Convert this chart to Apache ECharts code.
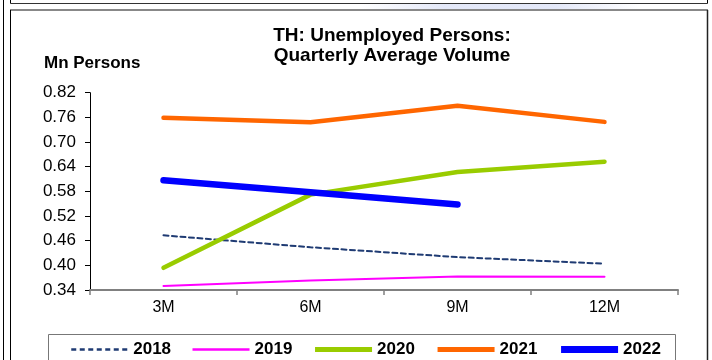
<!DOCTYPE html>
<html>
<head>
<meta charset="utf-8">
<script src="https://cdn.jsdelivr.net/npm/echarts@6/dist/echarts.min.js"></script>
<style>
  html, body { margin: 0; padding: 0; background: #fff; }
  #chart { width: 712px; height: 360px; }
</style>
</head>
<body>
<div id="chart"></div>
<script>
// Quarterly average volume of unemployed persons, millions
const categories = ['3M', '6M', '9M', '12M'];
const seriesNames = ['2018', '2019', '2020', '2021', '2022'];
const values2018 = [0.473, 0.444, 0.420, 0.404];
const values2019 = [0.350, 0.363, 0.373, 0.372];
const values2020 = [0.394, 0.572, 0.627, 0.652];
const values2021 = [0.759, 0.748, 0.788, 0.749];
const values2022 = [0.607, 0.578, 0.548];
const yMin = 0.34;
const yMax = 0.82;
const yStep = 0.06;

const FONT = "'Liberation Sans', Arial, sans-serif";
const chart = echarts.init(document.getElementById('chart'));

// colour, width and dash for each year's line
const lineLooks = {
  '2018': { color: '#1F3B73', width: 2, type: [5, 3.5] },
  '2019': { color: '#FF00FF', width: 2, type: 'solid' },
  '2020': { color: '#99CC00', width: 4.5, type: 'solid' },
  '2021': { color: '#FF6600', width: 4.5, type: 'solid' },
  '2022': { color: '#0000FF', width: 6.5, type: 'solid' }
};

function lineSeries(name, data) {
  const look = lineLooks[name];
  return {
    name: name,
    type: 'line',
    data: data,
    symbol: 'none',
    smooth: false,
    lineStyle: { color: look.color, width: look.width, type: look.type, cap: 'round' },
    itemStyle: { color: look.color },
    emphasis: { disabled: true },
    z: 3
  };
}

// Frame lines around the panel
const frame = [
  { type: 'line', shape: { x1: 3.5, y1: 0, x2: 3.5, y2: 360 }, style: { stroke: '#000', lineWidth: 1 } },
  { type: 'line', shape: { x1: 10.5, y1: 0, x2: 10.5, y2: 3.5 }, style: { stroke: '#000', lineWidth: 1 } },
  { type: 'line', shape: { x1: 707.5, y1: 0, x2: 707.5, y2: 3.5 }, style: { stroke: '#000', lineWidth: 1 } },
  { type: 'line', shape: { x1: 10.5, y1: 3.5, x2: 707.5, y2: 3.5 }, style: { stroke: '#333', lineWidth: 1 } },
  {
    type: 'rect', shape: { x: 360, y: 4, width: 280, height: 6 },
    style: {
      fill: new echarts.graphic.LinearGradient(0, 0, 1, 0, [
        { offset: 0, color: 'rgba(225,230,248,0)' },
        { offset: 0.3, color: 'rgba(225,230,248,0.9)' },
        { offset: 0.7, color: 'rgba(225,230,248,0.9)' },
        { offset: 1, color: 'rgba(225,230,248,0)' }
      ])
    }
  },
  { type: 'line', shape: { x1: 10, y1: 10, x2: 708, y2: 10 }, style: { stroke: '#888', lineWidth: 2 } },
  { type: 'line', shape: { x1: 10.5, y1: 10, x2: 10.5, y2: 360 }, style: { stroke: '#000', lineWidth: 1 } },
  { type: 'line', shape: { x1: 707.5, y1: 10, x2: 707.5, y2: 360 }, style: { stroke: '#222', lineWidth: 1.5 } },
  // legend box
  { type: 'rect', shape: { x: 48.5, y: 334.5, width: 627, height: 40 }, style: { fill: 'none', stroke: '#777', lineWidth: 1 } }
];

chart.setOption({
  animation: false,
  backgroundColor: '#fff',
  grid: { left: 90, right: 34, top: 92.7, bottom: 70, containLabel: false },
  xAxis: {
    type: 'category',
    data: categories,
    boundaryGap: true,
    axisLine: { show: true, lineStyle: { color: '#808080', width: 2 } },
    axisTick: { show: true, length: 5, inside: false, alignWithLabel: false, lineStyle: { color: '#808080', width: 1.5 } },
    axisLabel: { color: '#000', fontFamily: FONT, fontSize: 16, margin: 10 },
    splitLine: { show: false }
  },
  yAxis: {
    type: 'value',
    min: yMin,
    max: yMax,
    interval: yStep,
    axisLine: { show: true, lineStyle: { color: '#000', width: 1 } },
    axisTick: { show: true, length: 5, inside: false, lineStyle: { color: '#000', width: 1 } },
    axisLabel: {
      color: '#000', fontFamily: FONT, fontSize: 17, margin: 14,
      formatter: function (v) { return v.toFixed(2); }
    },
    splitLine: { show: false }
  },
  legend: {
    data: seriesNames.map(function (n) {
      return { name: n, lineStyle: { width: lineLooks[n].width + 0.5, cap: 'butt' } };
    }),
    left: 70,
    top: 341,
    padding: 0,
    itemWidth: 57,
    itemHeight: 14,
    itemGap: 20.2,
    itemStyle: { opacity: 0 },
    textStyle: { color: '#000', fontFamily: FONT, fontSize: 17, fontWeight: 'bold' },
    selectedMode: false
  },
  graphic: frame.concat([
    {
      type: 'text', x: 392, y: 26,
      style: {
        text: 'TH: Unemployed Persons:\nQuarterly Average Volume',
        font: "bold 19px " + FONT, fill: '#000', align: 'center', verticalAlign: 'top', lineHeight: 20
      }
    },
    {
      type: 'text', x: 44, y: 63,
      style: { text: 'Mn Persons', font: "bold 17px " + FONT, fill: '#000', align: 'left', verticalAlign: 'middle' }
    }
  ]),
  series: [
    lineSeries('2018', values2018),
    lineSeries('2019', values2019),
    lineSeries('2020', values2020),
    lineSeries('2021', values2021),
    lineSeries('2022', values2022)
  ]
});
</script>
</body>
</html>
